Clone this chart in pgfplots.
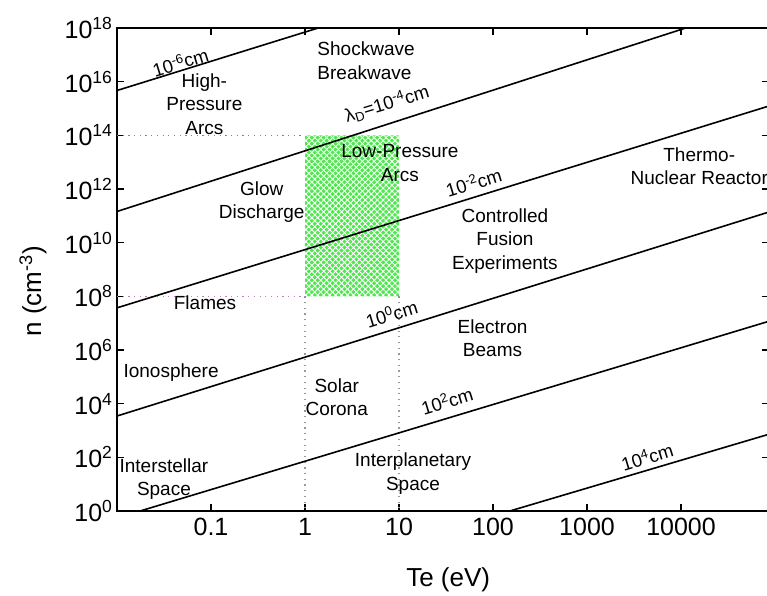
\documentclass[border=0pt]{standalone}
\usepackage{pgfplots}
\pgfplotsset{compat=1.18}
\usepackage{fontspec}
\setmainfont{Liberation Sans}
\usetikzlibrary{patterns.meta}
\definecolor{boxgreen}{RGB}{80,230,80}
\definecolor{dotblue}{RGB}{120,125,200}
\definecolor{dotpink}{RGB}{200,120,200}
\definecolor{dotgray}{RGB}{150,150,160}
\newcommand{\ann}{\fontsize{19}{23.5}\selectfont}
\newcommand{\lab}{\fontsize{18.5}{21}\selectfont}
\begin{document}
\begin{tikzpicture}
\begin{axis}[
  at={(117pt,84pt)}, anchor=south west,
  scale only axis, width=652pt, height=483pt,
  xmode=log, ymode=log,
  xmin=0.01, xmax=86300, ymin=1, ymax=1e18,
  axis line style={line width=1.5pt},
  tick align=inside, major tick length=7pt,
  tick style={line width=1.3pt, black},
  xminorticks=false, yminorticks=false,
  xtick={0.1,1,10,100,1000,10000},
  xticklabels={0.1,1,10,100,1000,10000},
  ytick={1,1e2,1e4,1e6,1e8,1e10,1e12,1e14,1e16,1e18},
  yticklabels={10\textsuperscript{0},10\textsuperscript{2},10\textsuperscript{4},10\textsuperscript{6},10\textsuperscript{8},10\textsuperscript{10},10\textsuperscript{12},10\textsuperscript{14},10\textsuperscript{16},10\textsuperscript{18}},
  xtick pos=both, ytick pos=both,
  xticklabel pos=lower, yticklabel pos=left,
  ticklabel style={font=\fontsize{25}{30}\selectfont},
  xticklabel style={yshift=-4pt},
  yticklabel style={xshift=-1pt},
  every axis x label/.style={at={(axis description cs:0.508,-0.143)},anchor=center},
  every axis y label/.style={at={(axis description cs:-0.129,0.455)},rotate=90,anchor=center},
  label style={font=\fontsize{26}{30}\selectfont},
  xlabel={Te (eV)},
  ylabel={n (cm\textsuperscript{-3})},
  clip=true,
]
% shaded region
\addplot[draw=none, fill=boxgreen,
  postaction={pattern={Lines[angle=45,distance=4.2pt,line width=0.9pt]}, pattern color=white},
  postaction={pattern={Lines[angle=-45,distance=4.2pt,line width=0.9pt]}, pattern color=white}]
  coordinates {(1,1e8) (10,1e8) (10,1e14) (1,1e14) (1,1e8)};
% dotted guide lines
\addplot[dotblue, line width=1.2pt, dash pattern=on 1.2pt off 4.5pt] coordinates {(0.01,1e14) (1,1e14)};
\addplot[dotpink, line width=1.2pt, dash pattern=on 1.2pt off 4.5pt] coordinates {(0.01,1e8) (1,1e8)};
\addplot[dotgray, line width=1.2pt, dash pattern=on 1.2pt off 4.5pt] coordinates {(1,1e8) (1,1)};
\addplot[dotgray, line width=1.2pt, dash pattern=on 1.2pt off 4.5pt] coordinates {(10,1e8) (10,1)};
% Debye length lines
\addplot[black, line width=1.6pt] coordinates {(0.01,4.68e15) (1.38,1e18)};
\addplot[black, line width=1.6pt] coordinates {(0.01,1.45e11) (11220,1e18)};
\addplot[black, line width=1.6pt] coordinates {(0.01,3.72e7) (86300,1.24e15)};
\addplot[black, line width=1.6pt] coordinates {(0.01,3467) (86300,1.39e11)};
\addplot[black, line width=1.6pt] coordinates {(0.0176,1) (86300,1.18e7)};
\addplot[black, line width=1.6pt] coordinates {(151,1) (86300,728)};
% line labels
\node[font=\lab, rotate=17] at (rel axis cs:0.097,0.930) {10\textsuperscript{-6}cm};
\node[font=\lab, rotate=17] at (rel axis cs:0.414,0.843) {λ\textsubscript{D}=10\textsuperscript{-4}cm};
\node[font=\lab, rotate=17] at (rel axis cs:0.547,0.681) {10\textsuperscript{-2}cm};
\node[font=\lab, rotate=17] at (rel axis cs:0.421,0.408) {10\textsuperscript{0}cm};
\node[font=\lab, rotate=17] at (rel axis cs:0.506,0.228) {10\textsuperscript{2}cm};
\node[font=\lab, rotate=17] at (rel axis cs:0.813,0.112) {10\textsuperscript{4}cm};
% region labels
\node[font=\ann, align=center] at (rel axis cs:0.134,0.843) {High-\\Pressure\\Arcs};
\node[font=\ann, align=left] at (rel axis cs:0.382,0.932) {Shockwave\\Breakwave};
\node[font=\ann, align=center] at (rel axis cs:0.434,0.720) {Low-Pressure\\Arcs};
\node[font=\ann, align=center] at (rel axis cs:0.893,0.714) {Thermo-\\Nuclear Reactor};
\node[font=\ann, align=center] at (rel axis cs:0.222,0.640) {Glow\\Discharge};
\node[font=\ann, align=center] at (rel axis cs:0.595,0.559) {Controlled\\Fusion\\Experiments};
\node[font=\ann] at (rel axis cs:0.135,0.431) {Flames};
\node[font=\ann, align=center] at (rel axis cs:0.576,0.358) {Electron\\Beams};
\node[font=\ann] at (rel axis cs:0.083,0.286) {Ionosphere};
\node[font=\ann, align=center] at (rel axis cs:0.337,0.236) {Solar\\Corona};
\node[font=\ann, align=center] at (rel axis cs:0.072,0.066) {Interstellar\\Space};
\node[font=\ann, align=center] at (rel axis cs:0.454,0.077) {Interplanetary\\Space};
\end{axis}
\pgfresetboundingbox
\path[use as bounding box] (0,0) rectangle (767pt,595pt);
\end{tikzpicture}
\end{document}
